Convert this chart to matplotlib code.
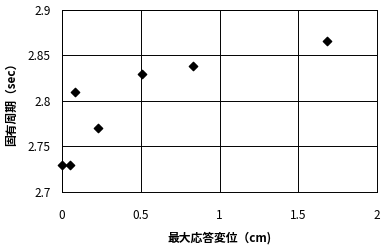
import matplotlib
matplotlib.use("Agg")
import matplotlib.pyplot as plt

plt.rcParams['font.family'] = ['Noto Sans CJK JP', 'DejaVu Sans']

disp = [0.0, 0.05, 0.08, 0.23, 0.51, 0.83, 1.68]
period = [2.73, 2.73, 2.81, 2.77, 2.83, 2.838, 2.866]
xticks = [0, 0.5, 1, 1.5, 2]
xticklabels = ["0", "0.5", "1", "1.5", "2"]
yticks = [2.7, 2.75, 2.8, 2.85, 2.9]
yticklabels = ["2.7", "2.75", "2.8", "2.85", "2.9"]

fig = plt.figure(figsize=(3.9, 2.47), dpi=100)
ax = fig.add_axes([0.159, 0.223, 0.808, 0.737])
ax.scatter(disp, period, marker='D', s=18, color='black', zorder=3, clip_on=False)
ax.set_xlim(0, 2)
ax.set_ylim(2.7, 2.9)
ax.set_xticks(xticks)
ax.set_xticklabels(xticklabels)
ax.set_yticks(yticks)
ax.set_yticklabels(yticklabels)
ax.grid(True, color='black', linewidth=0.7)
for s in ax.spines.values():
    s.set_linewidth(0.7)
ax.tick_params(axis='y', length=0, labelsize=8.5, pad=8)
ax.tick_params(axis='x', length=0, labelsize=8.5, pad=12)
ax.set_xlabel("最大応答変位（cm)", fontsize=8.5, fontweight='bold', labelpad=7)
ax.set_ylabel("固有周期（sec）", fontsize=8.5, fontweight='bold', labelpad=7)
fig.savefig("out.png", dpi=100)
